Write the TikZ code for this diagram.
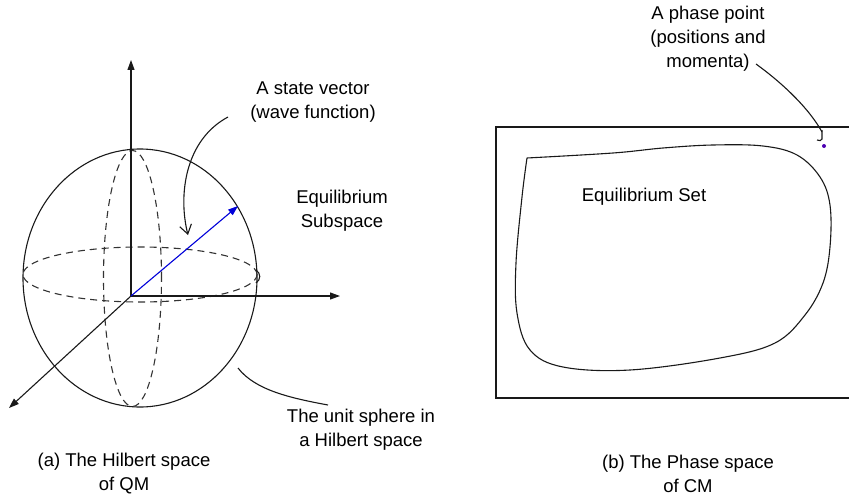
\documentclass[tikz,border=0pt]{standalone}
\usepackage{fontspec}
\setmainfont{Liberation Sans}
\usetikzlibrary{arrows.meta}
\tikzset{
  lbl/.style={align=center, inner sep=0pt, font=\fontsize{18.5}{24}\selectfont},
  thin line/.style={line width=1.1pt, black!90},
  dashline/.style={line width=1.1pt, black!80, dash pattern=on 7pt off 5pt},
  axis/.style={line width=1.1pt, black!90, -{Triangle[length=10pt,width=7pt]}},
}
\begin{document}
\begin{tikzpicture}[x=1pt,y=-1pt]
\useasboundingbox (0,0) rectangle (849,495);
% ---------- (a) Hilbert space ----------
\coordinate (O) at (131,296);
\coordinate (ztip) at (131,60);
\coordinate (xtip) at (340,296);
\coordinate (ytip) at (9,408);
\coordinate (vtip) at (238,206);
% sphere
\draw[thin line] (140,278) ellipse [x radius=117pt, y radius=129pt];
% dashed equator and meridian
\draw[dashline] (140,274.5) ellipse [x radius=117pt, y radius=27.5pt];
\draw[dashline] (132.5,278.5) ellipse [x radius=29pt, y radius=128pt];
% axes
\draw[axis] (O) -- (ztip);
\draw[axis] (O) -- (xtip);
\draw[axis] (O) -- (ytip);
% state vector
\draw[line width=1.1pt, blue!85!black, -{Triangle[length=10pt,width=7pt]}] (O) -- (vtip);
% small mark on equator
\draw[thin line] (256,270) .. controls (261,273) and (261,280) .. (256,283);
% labels
\node[lbl] (sv) at (313,102) {A state vector\\(wave function)};
\node[lbl] (eq) at (342,211) {Equilibrium\\Subspace};
\node[lbl] (us) at (361,430) {The unit sphere in\\a Hilbert space};
\node[lbl] (capa) at (124,474) {(a) The Hilbert space\\of QM};
% leader lines
\coordinate (svs) at (228,117);
\coordinate (sve) at (188,235);
\draw[thin line, -{Straight Barb[length=9pt,width=12pt]}] (svs) .. controls (185,140) and (178,195) .. (sve);
\coordinate (uss) at (238,368);
\coordinate (use) at (328,405);
\draw[thin line] (uss) .. controls (255,390) and (290,398) .. (use);
% ---------- (b) Phase space ----------
\draw[thin line] (849,127) -- (496,127) -- (496,398) -- (849,398);
\draw[thin line] plot[smooth, tension=0.6] coordinates {
 (527,158) (613,153) (663,148) (713,145) (763,146) (797,155) (820,177)
 (830,205) (830,247) (823,283) (805,315) (775,343) (720,358) (630,370)
 (563,367) (530,350) (517,313) (516,263) (522,197) (527,158)};
\node[lbl] (es) at (644,197) {Equilibrium Set};
\node[lbl] (pp) at (708,39) {A phase point\\(positions and\\momenta)};
\node[lbl] (capb) at (688,474) {(b) The Phase space\\of CM};
\node[circle, fill=blue!70!red, inner sep=0pt, minimum size=4pt] (dot) at (824,146) {};
\coordinate (pps) at (756,64);
\coordinate (ppe) at (822,132);
\draw[thin line] (pps) .. controls (785,85) and (810,110) .. (ppe);
\draw[thin line] (822,130) -- (822,139) .. controls (822,141) and (819,141) .. (817,140);
\end{tikzpicture}
\end{document}
